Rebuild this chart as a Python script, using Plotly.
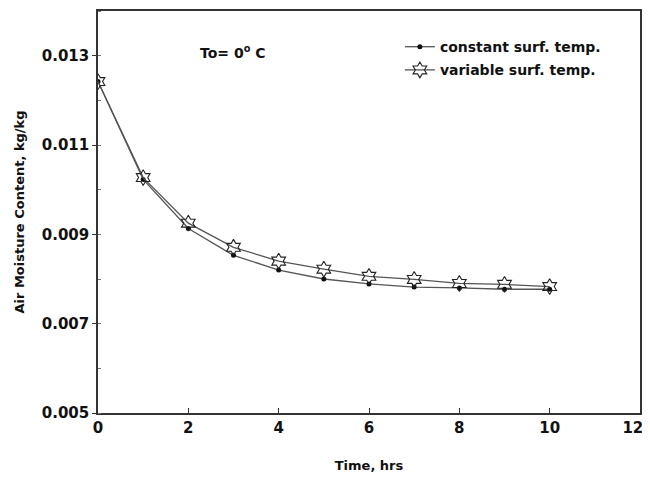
import plotly.graph_objects as go

time_hrs = [0, 1, 2, 3, 4, 5, 6, 7, 8, 9, 10]
constant_surf = [0.01242, 0.01023, 0.00913, 0.00853, 0.00820, 0.00800, 0.00789, 0.00782, 0.00780, 0.00777, 0.00777]
variable_surf = [0.01242, 0.01027, 0.00925, 0.00871, 0.00840, 0.00822, 0.00806, 0.00799, 0.00790, 0.00788, 0.00783]
x_ticks = [0, 2, 4, 6, 8, 10, 12]
y_ticks = [0.005, 0.007, 0.009, 0.011, 0.013]
y_tick_labels = ["0.005", "0.007", "0.009", "0.011", "0.013"]

FONT = "DejaVu Sans"

fig = go.Figure()
fig.add_trace(go.Scatter(
    x=time_hrs, y=constant_surf, mode="lines+markers",
    name="<b>constant surf. temp.</b>", legendgroup="a",
    line=dict(color="#555555", width=1.3),
    marker=dict(symbol="circle", size=5, color="#111111"),
))
fig.add_trace(go.Scatter(
    x=time_hrs, y=variable_surf, mode="lines+markers",
    name="<b>variable surf. temp.</b>", legendgroup="b",
    line=dict(color="#555555", width=1.3),
    marker=dict(symbol="hexagram-open", size=12, color="#222222", line=dict(width=1.1, color="#222222")),
))

fig.add_annotation(x=0.1845, y=0.898, xref="paper", yref="paper",
                   text="<b>To= 0<sup>o</sup> C</b>", showarrow=False,
                   font=dict(family=FONT, size=14, color="#111111"),
                   xanchor="left", yanchor="middle")

# last x label is padded so it stays inside the visible page edge
x_tick_text = ["<b>%d</b>" % v for v in x_ticks]
x_tick_text[-1] = x_tick_text[-1] + "\u00a0\u00a0\u00a0"

# page body has an 8px margin: figure is sized/offset so the page does not overflow vertically
fig.update_layout(
    width=642, height=465,
    margin=dict(l=90, r=10, t=3, b=60, autoexpand=False),
    paper_bgcolor="white", plot_bgcolor="white",
    font=dict(family=FONT, color="#111111"),
    showlegend=True,
    legend=dict(x=0.557, y=0.95, xanchor="left", yanchor="top",
                bgcolor="rgba(0,0,0,0)", font=dict(family=FONT, size=14),
                itemwidth=30, tracegroupgap=2),
    xaxis=dict(range=[0, 12], tickvals=x_ticks, ticktext=x_tick_text,
               showgrid=False, zeroline=False, automargin=False, ticklabeloverflow="allow",
               showline=True, linecolor="#333333", linewidth=1.5, mirror=True,
               ticks="inside", ticklen=5, tickcolor="#333333",
               tickfont=dict(family=FONT, size=15, color="#111111"),
               title=dict(text="<b>Time, hrs</b>", font=dict(family=FONT, size=13), standoff=28)),
    yaxis=dict(range=[0.005, 0.014], tickvals=y_ticks, ticktext=["<b>%s</b>" % t for t in y_tick_labels],
               showgrid=False, zeroline=False, automargin=False,
               showline=True, linecolor="#333333", linewidth=1.5, mirror=True,
               ticks="outside", ticklen=4, tickcolor="#333333",
               tickfont=dict(family=FONT, size=15, color="#111111"),
               minor=dict(ticks="inside", ticklen=3, dtick=0.001, tickcolor="#777777"),
               title=dict(text="<b>Air Moisture Content, kg/kg</b>", font=dict(family=FONT, size=13), standoff=14)),
)

fig.write_html("out.html")
